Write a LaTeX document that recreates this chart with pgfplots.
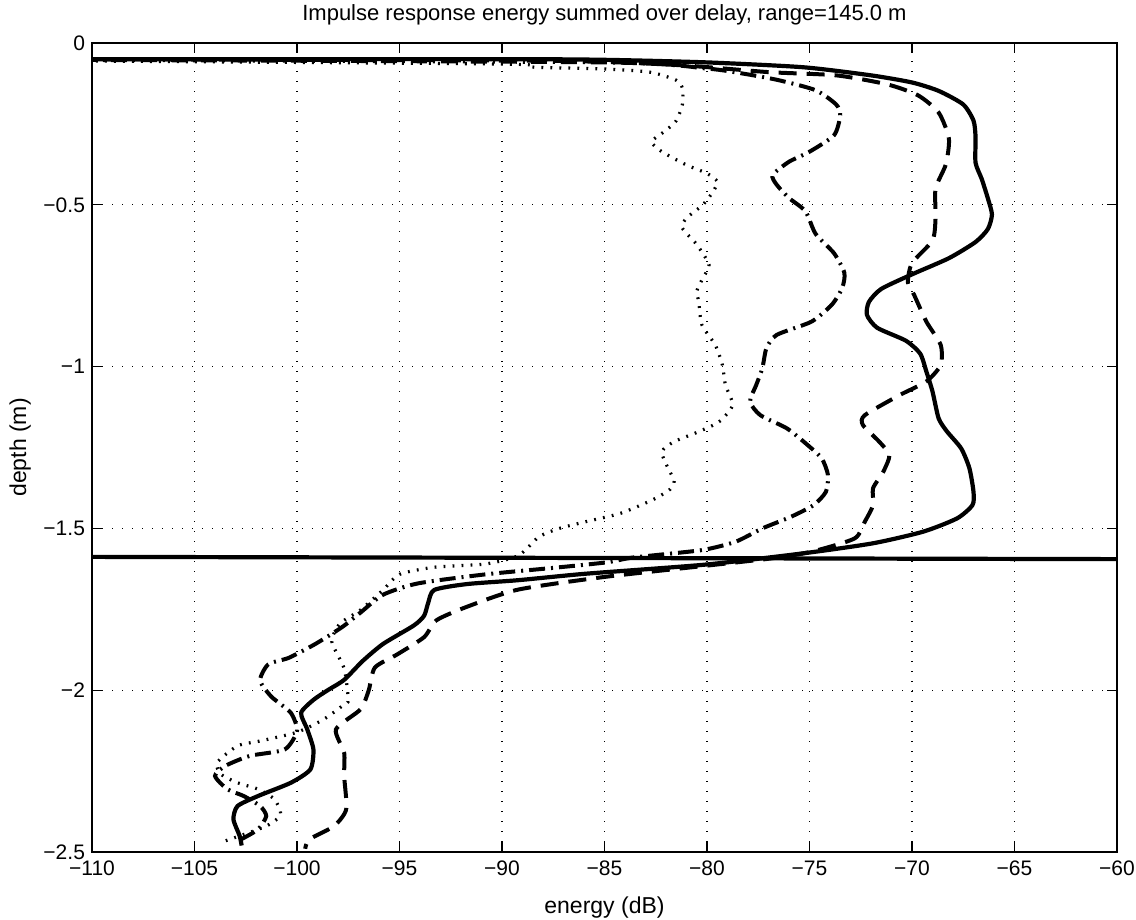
\documentclass[border=0pt]{standalone}
\usepackage{fontspec}
\setmainfont{Liberation Sans}
\usepackage{pgfplots}
\pgfplotsset{compat=1.18}
\begin{document}
\begin{tikzpicture}[font=\fontsize{10}{12}\selectfont]
\useasboundingbox (-46pt,-34pt) rectangle (522pt,426pt);
\begin{axis}[
  at={(0pt,0pt)}, anchor=south west, scale only axis,
  width=512.5pt, height=404.5pt,
  xmin=-110, xmax=-60, ymin=-2.5, ymax=0,
  xtick={-110,-105,...,-60},
  xticklabels={−110,−105,−100,−95,−90,−85,−80,−75,−70,−65,−60},
  ytick={-2.5,-2,-1.5,-1,-0.5,0},
  yticklabels={−2.5,−2,−1.5,−1,−0.5,0},
  tick align=inside, major tick length=5pt,
  tick style={black, line width=0.6pt},
  grid=major,
  major grid style={black, line width=0.6pt, dash pattern=on 0.6pt off 4.4pt},
  axis line style={black, line width=0.9pt},
  ticklabel style={font=\fontsize{10.5}{12}\selectfont},
  xticklabel style={yshift=-1pt},
  title={Impulse response energy summed over delay, range=145.0 m},
  title style={at={(axis description cs:0.5,1.02)}, anchor=center, yshift=0pt, font=\fontsize{11}{13}\selectfont},
  xlabel={energy (dB)},
  xlabel style={at={(axis description cs:0.5,-0.069)}, anchor=center, font=\fontsize{11.5}{13}\selectfont},
  ylabel={depth (m)},
  ylabel style={at={(axis description cs:-0.07,0.5)}, anchor=center, font=\fontsize{11.5}{13}\selectfont},
]
% bottom horizontal line
\addplot[black, line width=2.1pt] coordinates {(-110,-1.588) (-60,-1.595)};
% dotted
\addplot[black, line width=1.6pt, dash pattern=on 0.9pt off 3.6pt, smooth, tension=0.4] coordinates {
(-112,-0.055) (-90,-0.065) (-88.4,-0.075) (-85.1,-0.08) (-82.8,-0.09) (-81.5,-0.115) (-81.2,-0.14)
(-81.2,-0.19) (-81.5,-0.24) (-82.0,-0.27) (-82.7,-0.305) (-82.2,-0.336) (-81,-0.377) (-80,-0.403)
(-79.5,-0.428) (-79.7,-0.459) (-80.2,-0.5) (-81,-0.541) (-81.2,-0.572) (-80.5,-0.623) (-79.9,-0.685)
(-80.2,-0.726) (-80.5,-0.767) (-80.4,-0.80) (-80.25,-0.871) (-79.6,-0.933) (-79.25,-0.995)
(-79.1,-1.057) (-78.75,-1.119) (-79.4,-1.17) (-80.4,-1.201) (-81.6,-1.232) (-82.2,-1.263)
(-81.9,-1.314) (-81.6,-1.353) (-81.8,-1.379) (-82.6,-1.41) (-84.2,-1.453) (-85.9,-1.479)
(-87.2,-1.5) (-88.2,-1.526) (-89.2,-1.584) (-90.8,-1.61) (-93.3,-1.62) (-95,-1.642) (-95.8,-1.69)
(-96.9,-1.752) (-97.9,-1.794) (-98.3,-1.85) (-97.7,-1.933) (-97.5,-2.03) (-97.7,-2.044)
(-98.7,-2.09) (-100,-2.13) (-101.8,-2.157) (-102.9,-2.172) (-103.9,-2.224) (-103.7,-2.26)
(-102.9,-2.286) (-101.9,-2.306) (-101.1,-2.337) (-100.8,-2.384) (-101.5,-2.42) (-103.7,-2.47)
};
% dash-dot
\addplot[black, line width=2pt, dash pattern=on 8pt off 3pt on 1pt off 3pt, smooth, tension=0.4] coordinates {
(-112,-0.052) (-85,-0.06) (-80,-0.079) (-78.2,-0.095) (-76.5,-0.115) (-74.7,-0.146) (-73.7,-0.19)
(-73.5,-0.223) (-73.8,-0.285) (-75,-0.336) (-76,-0.367) (-76.8,-0.408) (-76.6,-0.438) (-76,-0.479)
(-75.2,-0.52) (-74.7,-0.59) (-73.8,-0.65) (-73.3,-0.71) (-73.4,-0.756) (-73.9,-0.808) (-74.9,-0.861)
(-76.6,-0.902) (-77.1,-0.943) (-77.3,-1.005) (-77.6,-1.057) (-77.9,-1.108) (-77.4,-1.15)
(-76.1,-1.191) (-75.1,-1.242) (-74.4,-1.284) (-74.1,-1.335) (-74.2,-1.387) (-74.8,-1.428)
(-75.9,-1.464) (-77.3,-1.5) (-78.6,-1.541) (-80.25,-1.567) (-83.6,-1.59) (-84.9,-1.605)
(-87.5,-1.622) (-90.8,-1.642) (-94.1,-1.67) (-95.8,-1.705) (-96.9,-1.76) (-97.8,-1.805)
(-99.1,-1.857) (-100.4,-1.9) (-101.4,-1.92) (-101.8,-1.97) (-101.25,-2.02) (-100.3,-2.07)
(-100,-2.126) (-100.6,-2.183) (-102.3,-2.203) (-103.5,-2.234) (-104,-2.265) (-103.4,-2.306)
(-102.6,-2.327) (-101.8,-2.358) (-101.5,-2.389) (-101.9,-2.43) (-102.7,-2.46)
};
% dashed
\addplot[black, line width=2pt, dash pattern=on 9pt off 5pt, smooth, tension=0.4] coordinates {
(-112,-0.05) (-88,-0.055) (-81.5,-0.068) (-77,-0.09) (-73.7,-0.1) (-71.2,-0.128) (-69.7,-0.162)
(-68.7,-0.215) (-68.2,-0.295) (-68.35,-0.375) (-68.85,-0.45) (-68.85,-0.54) (-69,-0.61) (-70,-0.68)
(-70.2,-0.74) (-69.9,-0.778) (-69.3,-0.861) (-68.6,-0.933) (-68.6,-0.995) (-69.3,-1.046)
(-70.6,-1.088) (-72.3,-1.15) (-72.4,-1.18) (-71.6,-1.232) (-71.1,-1.273) (-71.4,-1.325)
(-71.9,-1.376) (-71.9,-1.428) (-72.3,-1.479) (-72.8,-1.531) (-74.9,-1.572) (-76.9,-1.593)
(-80,-1.615) (-85,-1.65) (-89.2,-1.689) (-91.7,-1.742) (-93.2,-1.784) (-93.8,-1.836) (-95.1,-1.889)
(-96.2,-1.93) (-96.5,-2.0) (-96.9,-2.059) (-98.1,-2.121) (-97.7,-2.193) (-97.7,-2.265)
(-97.6,-2.368) (-98.2,-2.42) (-99.4,-2.461) (-99.6,-2.49)
};
% solid
\addplot[black, line width=2.1pt, smooth, tension=0.4] coordinates {
(-112,-0.05) (-90,-0.05) (-85,-0.052) (-80,-0.06) (-75.3,-0.075) (-72,-0.1) (-70,-0.122)
(-68.7,-0.148) (-67.5,-0.19) (-67,-0.24) (-66.9,-0.29) (-66.9,-0.37) (-66.6,-0.42) (-66.3,-0.48)
(-66.1,-0.53) (-66.3,-0.575) (-66.9,-0.615) (-68.2,-0.665) (-70,-0.715) (-71.5,-0.76) (-72.1,-0.8)
(-72.2,-0.84) (-71.7,-0.88) (-70.3,-0.92) (-69.6,-0.96) (-69.3,-1.015) (-69,-1.077) (-68.7,-1.16)
(-68.3,-1.2) (-67.6,-1.253) (-67.2,-1.314) (-67,-1.387) (-67.05,-1.428) (-67.8,-1.469)
(-69.45,-1.51) (-71.9,-1.546) (-75.3,-1.577) (-80.1,-1.612) (-85.9,-1.64) (-89.2,-1.66)
(-91.7,-1.672) (-93.3,-1.69) (-93.6,-1.73) (-93.8,-1.77) (-94.3,-1.8) (-95.8,-1.857) (-96.8,-1.91)
(-97.7,-1.968) (-98.5,-2.0) (-99.2,-2.03) (-99.8,-2.07) (-99.5,-2.121) (-99.2,-2.183)
(-99.35,-2.245) (-100.3,-2.286) (-101.9,-2.327) (-102.9,-2.358) (-103.1,-2.399) (-102.8,-2.45)
(-102.7,-2.48)
};
\end{axis}
\end{tikzpicture}
\end{document}
